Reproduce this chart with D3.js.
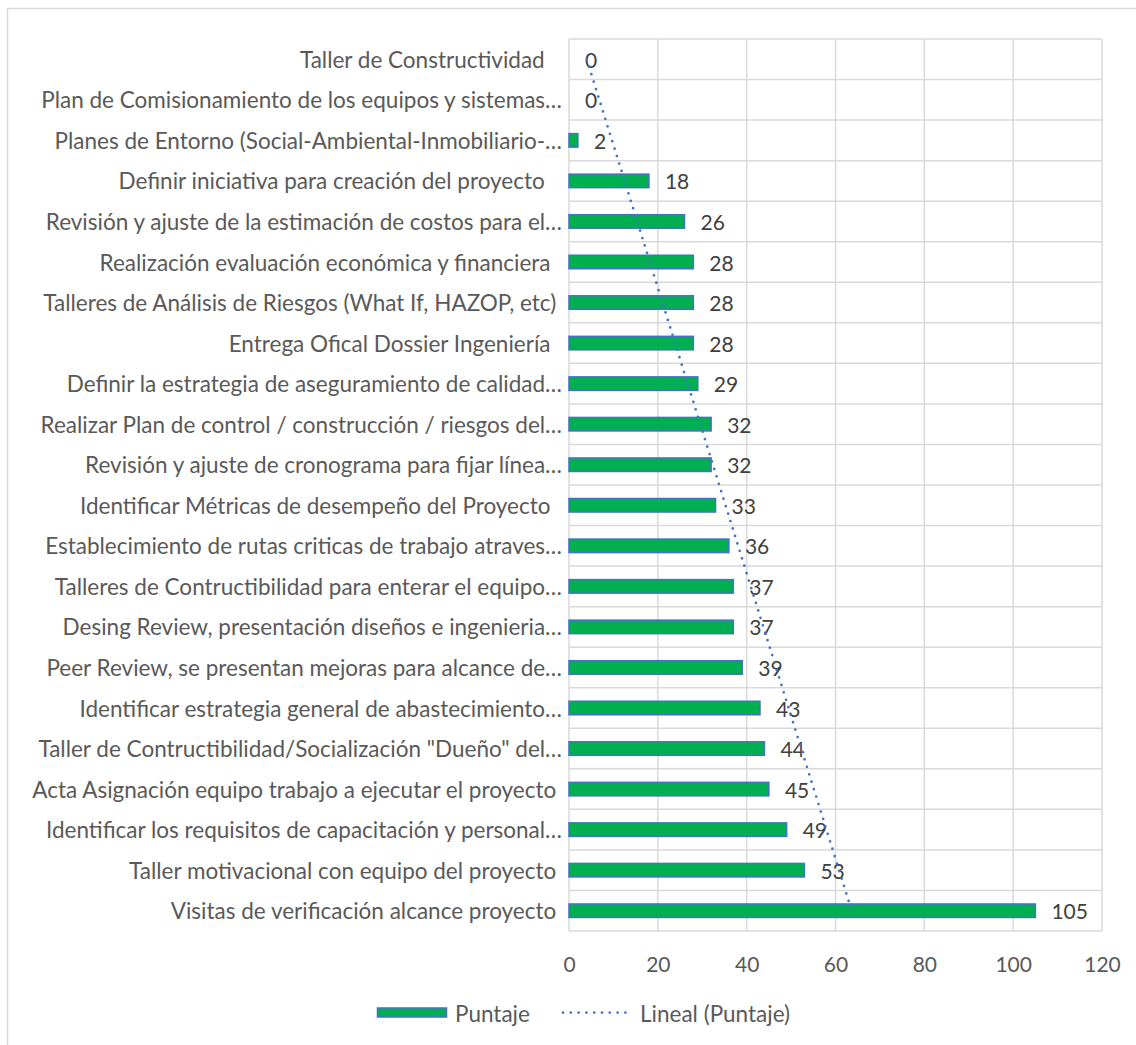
<!DOCTYPE html>
<html>
<head>
<meta charset="utf-8">
<script src="https://cdn.jsdelivr.net/npm/d3@7"></script>
<style>
  html, body { margin: 0; padding: 0; background: #ffffff; }
  svg { display: block; }
  text { font-family: Lato, "Open Sans", sans-serif; white-space: pre; }
</style>
</head>
<body>
<svg id="chart" width="1136" height="1045"></svg>
<script>
// Activities, listed top to bottom as they appear on the chart
const categories = [
  "Taller de Constructividad   ",
  "Plan de Comisionamiento de los equipos y sistemas…",
  "Planes de Entorno (Social-Ambiental-Inmobiliario-…",
  "Definir iniciativa para creación del proyecto   ",
  "Revisión y ajuste de la estimación de costos para el…",
  "Realización evaluación económica y financiera  ",
  "Talleres de Análisis de Riesgos (What If, HAZOP, etc) ",
  "Entrega Ofical Dossier Ingeniería  ",
  "Definir la estrategia de aseguramiento de calidad…",
  "Realizar Plan de control / construcción / riesgos del…",
  "Revisión y ajuste de cronograma para fijar línea…",
  "Identificar Métricas de desempeño del Proyecto  ",
  "Establecimiento de rutas criticas de trabajo atraves…",
  "Talleres de Contructibilidad para enterar el equipo…",
  "Desing Review, presentación diseños e ingenieria…",
  "Peer Review, se presentan mejoras para alcance de…",
  "Identificar estrategia general de abastecimiento…",
  "Taller de Contructibilidad/Socialización \"Dueño\" del…",
  "Acta Asignación equipo trabajo a ejecutar el proyecto ",
  "Identificar los requisitos de capacitación y personal…",
  "Taller motivacional con equipo del proyecto ",
  "Visitas de verificación alcance proyecto "
];

// Score per activity (same order)
const puntaje = [0, 0, 2, 18, 26, 28, 28, 28, 29, 32, 32, 33, 36, 37, 37, 39, 43, 44, 45, 49, 53, 105];

// Value axis ticks
const xTicks = [0, 20, 40, 60, 80, 100, 120];

const seriesName = "Puntaje";
const trendName = "Lineal (Puntaje)";

const GREEN = "#00b050";
const BLUE = "#4472c4";
const GRID = "#d9d9d9";
const LABEL = "#595959";
const VALUE = "#404040";
const TEXT_SIZE = 22.5;
const NUM_SIZE = 21;

const svg = d3.select("#chart");

// outer chart frame
svg.append("rect")
  .attr("x", 7.5).attr("y", 8.5)
  .attr("width", 1140).attr("height", 1050)
  .attr("fill", "none").attr("stroke", GRID).attr("stroke-width", 1.5);

const x = d3.scaleLinear().domain([0, 120]).range([569, 1102]);
const y = d3.scaleBand().domain(categories).range([39, 931]).padding(0);

const bw = y.bandwidth();
const barH = bw / 3;

// vertical gridlines
const gGrid = svg.append("g");
gGrid.selectAll("line.v").data(xTicks).join("line")
  .attr("x1", d => x(d)).attr("x2", d => x(d))
  .attr("y1", 39).attr("y2", 931)
  .attr("stroke", GRID).attr("stroke-width", 1.5);

// horizontal category separators
const bounds = categories.map(c => y(c)).concat([931]);
gGrid.selectAll("line.h").data(bounds).join("line")
  .attr("x1", 569).attr("x2", 1102)
  .attr("y1", d => d).attr("y2", d => d)
  .attr("stroke", GRID).attr("stroke-width", 1.5);

// category axis labels
svg.append("g").selectAll("text").data(categories).join("text")
  .attr("x", 562)
  .attr("y", d => y(d) + bw / 2)
  .attr("text-anchor", "end")
  .attr("dominant-baseline", "central")
  .attr("font-size", TEXT_SIZE)
  .attr("fill", LABEL)
  .text(d => d);

// value axis tick labels
const xAxis = d3.axisBottom(x).tickValues(xTicks).tickSize(0).tickPadding(0);
const gx = svg.append("g").attr("transform", "translate(0,963)").call(xAxis);
gx.select(".domain").remove();
gx.selectAll("text")
  .attr("dy", null)
  .attr("dominant-baseline", "central")
  .attr("font-family", "Lato, 'Open Sans', sans-serif")
  .attr("font-size", NUM_SIZE)
  .attr("fill", LABEL);

// bars
const data = categories.map((c, i) => ({ c, v: puntaje[i] }));
svg.append("g").selectAll("rect").data(data).join("rect")
  .attr("x", x(0))
  .attr("y", d => y(d.c) + bw / 2 - barH / 2)
  .attr("width", d => x(d.v) - x(0))
  .attr("height", barH)
  .attr("fill", GREEN)
  .attr("stroke", BLUE)
  .attr("stroke-width", 1.5);

// linear trendline: least squares against the series position (bottom = 1)
const n = puntaje.length;
const pts = data.map((d, i) => ({ c: d.c, k: n - i, v: d.v }));
const mk = d3.mean(pts, p => p.k);
const mv = d3.mean(pts, p => p.v);
const slope = d3.sum(pts, p => (p.k - mk) * (p.v - mv)) / d3.sum(pts, p => (p.k - mk) ** 2);
const icpt = mv - slope * mk;
const trend = pts.map(p => ({ c: p.c, t: icpt + slope * p.k }));

// value labels
svg.append("g").selectAll("text").data(data).join("text")
  .attr("x", d => x(d.v) + 16)
  .attr("y", d => y(d.c) + bw / 2)
  .attr("dominant-baseline", "central")
  .attr("font-size", NUM_SIZE)
  .attr("fill", VALUE)
  .text(d => d.v);

svg.append("path")
  .datum(trend)
  .attr("d", d3.line().x(d => x(d.t)).y(d => y(d.c) + bw / 2))
  .attr("fill", "none")
  .attr("stroke", BLUE)
  .attr("stroke-width", 2.75)
  .attr("stroke-linecap", "round")
  .attr("stroke-dasharray", "0 7.8");

// legend
const lg = svg.append("g");
lg.append("rect")
  .attr("x", 377.5).attr("y", 1008)
  .attr("width", 69).attr("height", 9)
  .attr("fill", GREEN).attr("stroke", BLUE).attr("stroke-width", 1.5);
lg.append("text")
  .attr("x", 455).attr("y", 1013)
  .attr("dominant-baseline", "central")
  .attr("font-size", TEXT_SIZE).attr("fill", LABEL)
  .text(seriesName);
lg.append("line")
  .attr("x1", 563).attr("x2", 633)
  .attr("y1", 1012.5).attr("y2", 1012.5)
  .attr("stroke", BLUE).attr("stroke-width", 2.75)
  .attr("stroke-linecap", "round")
  .attr("stroke-dasharray", "0 7.8");
lg.append("text")
  .attr("x", 640).attr("y", 1013)
  .attr("dominant-baseline", "central")
  .attr("font-size", TEXT_SIZE).attr("fill", LABEL)
  .text(trendName);
</script>
</body>
</html>
